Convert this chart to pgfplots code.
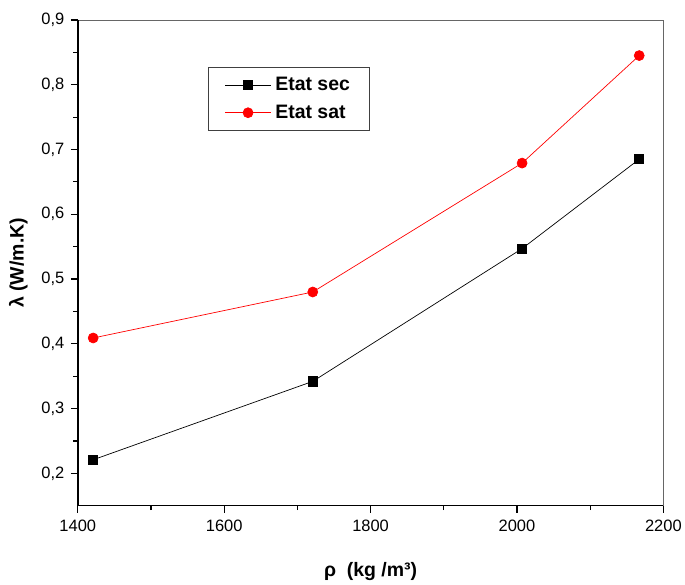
\documentclass[border=0pt]{standalone}
\usepackage{pgfplots}
\pgfplotsset{compat=1.18}
\usepackage{fontspec}
\setmainfont{Liberation Sans}
\begin{document}
\begin{tikzpicture}
\begin{axis}[
  scale only axis,
  width=587pt, height=487pt,
  xmin=1400, xmax=2200, ymin=0.15, ymax=0.9,
  xtick={1400,1600,...,2200},
  ytick={0.2,0.3,...,0.9},
  minor x tick num=1, minor y tick num=1,
  xtick pos=bottom, ytick pos=left,
  axis line style={gray!80!black, line width=0.8pt},
  tick style={black, line width=1.2pt},
  tick align=outside,
  major tick length=7pt, minor tick length=4.5pt,
  /pgf/number format/assume math mode=true,
  x tick label style={/pgf/number format/.cd, 1000 sep={}, fixed, /tikz/.cd, yshift=-4pt},
  y tick label style={/pgf/number format/.cd, use comma, fixed, fixed zerofill, precision=1, /tikz/.cd, xshift=-3pt},
  ticklabel style={font=\fontsize{16.5}{18}\selectfont},
  label style={font=\bfseries\fontsize{19.5}{22}\selectfont},
  xlabel={ρ\ \ (kg /m³)},
  ylabel={λ (W/m.K)},
  xlabel style={yshift=-24pt},
  ylabel style={yshift=7pt},
  legend style={at={(rel axis cs:0.223,0.903)}, anchor=north west,
    draw=black!75, line width=0.8pt, font=\bfseries\fontsize{19.5}{22}\selectfont,
    inner xsep=16pt, inner ysep=8pt, row sep=9pt,
    nodes={inner xsep=4pt}},
  legend cell align=left,
  legend image code/.code={
    \draw[#1] (0pt,0pt) -- (46pt,0pt);
    \draw[#1, only marks] plot coordinates {(23pt,0pt)};
  },
  clip=false,
]
\addplot[black, line width=0.7pt, mark=square*, mark size=4.6pt, mark options={solid}]
  coordinates {(1421,0.221) (1721,0.342) (2007,0.547) (2167,0.685)};
\addlegendentry{Etat sec}
\addplot[red, line width=0.7pt, mark=*, mark size=5pt, mark options={solid}]
  coordinates {(1421,0.409) (1721,0.480) (2007,0.679) (2167,0.845)};
\addlegendentry{Etat sat}
\draw[black, line width=1.4pt] (rel axis cs:0,1) -- (rel axis cs:0,0) -- (rel axis cs:1,0);
\coordinate (ll) at (rel axis cs:0,0);
\coordinate (ur) at (rel axis cs:1,1);
\end{axis}
\path ([shift={(-78pt,-76pt)}]ll) rectangle ([shift={(20pt,20pt)}]ur);
\end{tikzpicture}
\end{document}
